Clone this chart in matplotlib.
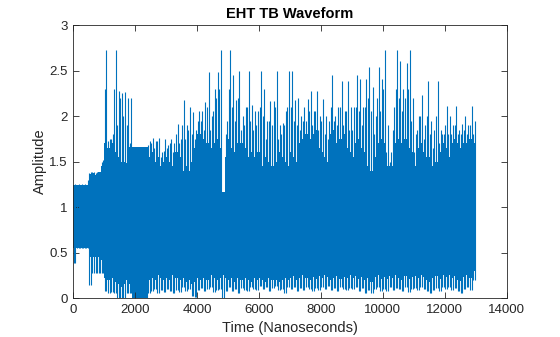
import matplotlib
matplotlib.use("Agg")
import matplotlib.pyplot as plt
import numpy as np

# Waveform summarised in 100 ns bins (0 .. 13000 ns)
BIN_NS = 100

# solid core of the trace: top / bottom per bin
core_hi = [
    1.24, 1.24, 1.24, 1.24, 1.24, 1.36, 1.37, 1.35, 1.38, 1.45,
    1.70, 1.65, 1.70, 1.60, 1.55, 1.50, 1.50, 1.48, 1.66, 1.66,
    1.66, 1.66, 1.66, 1.66, 1.55, 1.60, 1.50, 1.55, 1.45, 1.50,
    1.55, 1.50, 1.45, 1.60, 1.55, 1.40, 1.45, 1.40, 1.50, 1.65,
    1.80, 1.80, 1.75, 1.70, 1.65, 1.70, 1.75, 1.65, 1.17, 1.55,
    1.75, 1.65, 1.60, 1.70, 1.70, 1.65, 1.55, 1.60, 1.55, 1.60,
    1.60, 1.45, 1.55, 1.50, 1.45, 1.50, 1.60, 1.55, 1.50, 1.45,
    1.60, 1.55, 1.50, 1.70, 1.75, 1.80, 1.75, 1.80, 1.85, 1.65,
    1.60, 1.55, 1.50, 1.80, 1.85, 1.70, 1.75, 1.80, 1.65, 1.60,
    1.55, 1.70, 1.75, 1.65, 1.60, 1.45, 1.40, 1.55, 1.70, 1.75,
    1.70, 1.45, 1.45, 1.45, 1.70, 1.75, 1.70, 1.75, 1.65, 1.60,
    1.45, 1.65, 1.70, 1.60, 1.55, 1.55, 1.45, 1.50, 1.60, 1.70,
    1.65, 1.55, 1.70, 1.75, 1.70, 1.65, 1.70, 1.70, 1.75, 1.70,
]
core_lo = [
    0.55, 0.55, 0.55, 0.55, 0.55, 0.45, 0.45, 0.45, 0.45, 0.42,
    0.22, 0.20, 0.22, 0.18, 0.15, 0.12, 0.15, 0.20, 0.15, 0.00,
    0.00, 0.00, 0.00, 0.00, 0.20, 0.22, 0.20, 0.25, 0.22, 0.20,
    0.22, 0.20, 0.25, 0.22, 0.20, 0.22, 0.18, 0.20, 0.15, 0.18,
    0.22, 0.20, 0.22, 0.20, 0.25, 0.22, 0.20, 0.22, 0.25, 0.22,
    0.20, 0.22, 0.18, 0.22, 0.20, 0.22, 0.20, 0.18, 0.22, 0.20,
    0.22, 0.20, 0.18, 0.22, 0.20, 0.20, 0.18, 0.20, 0.22, 0.20,
    0.22, 0.24, 0.20, 0.22, 0.25, 0.22, 0.20, 0.23, 0.21, 0.24,
    0.22, 0.25, 0.23, 0.20, 0.22, 0.24, 0.21, 0.23, 0.22, 0.25,
    0.22, 0.24, 0.21, 0.23, 0.20, 0.22, 0.18, 0.23, 0.25, 0.21,
    0.23, 0.21, 0.24, 0.22, 0.25, 0.22, 0.20, 0.24, 0.21, 0.23,
    0.24, 0.22, 0.25, 0.23, 0.20, 0.18, 0.22, 0.24, 0.21, 0.25,
    0.23, 0.25, 0.22, 0.24, 0.20, 0.19, 0.23, 0.25, 0.22, 0.30,
]

# top of the dense (non-solid) band of oscillation per bin
dense_hi = [
    1.24, 1.24, 1.24, 1.24, 1.24, 1.37, 1.38, 1.37, 1.38, 1.50,
    2.30, 1.72, 1.75, 2.30, 1.90, 2.20, 2.00, 1.90, 1.70, 1.66,
    1.66, 1.66, 1.66, 1.66, 1.68, 1.70, 1.65, 1.72, 1.55, 1.62,
    1.65, 1.70, 1.60, 1.80, 1.70, 1.90, 1.75, 1.85, 1.80, 1.75,
    1.95, 1.95, 1.85, 2.10, 1.85, 2.05, 2.20, 2.30, 1.17, 1.80,
    2.30, 2.10, 1.95, 2.20, 1.85, 1.90, 2.10, 1.95, 1.85, 1.90,
    2.10, 2.00, 1.75, 1.95, 1.90, 2.10, 1.75, 1.80, 1.90, 2.10,
    2.10, 1.95, 1.90, 1.85, 1.95, 1.95, 2.05, 1.90, 2.05, 1.85,
    1.95, 1.80, 1.75, 2.10, 1.95, 1.90, 2.10, 1.90, 2.05, 1.85,
    1.85, 2.10, 2.05, 1.90, 2.10, 2.20, 2.05, 1.80, 2.20, 2.05,
    2.30, 1.60, 1.50, 1.85, 2.30, 2.20, 2.05, 2.20, 2.30, 1.95,
    1.60, 1.85, 2.00, 1.75, 2.00, 1.80, 1.65, 2.00, 1.70, 1.80,
    1.90, 1.80, 1.80, 1.90, 1.80, 1.80, 1.85, 1.80, 1.90, 1.80,
]

# full excursion of the trace per bin (spikes and dips)
peak_hi = [
    1.25, 1.25, 1.25, 1.25, 1.30, 1.38, 1.38, 1.38, 1.39, 1.52,
    2.72, 1.75, 1.80, 2.72, 2.28, 2.25, 2.26, 2.20, 2.20, 1.66,
    1.66, 1.66, 1.66, 1.66, 1.72, 1.76, 1.72, 1.76, 1.60, 1.75,
    1.68, 1.75, 1.70, 1.91, 1.75, 2.18, 1.90, 2.10, 2.04, 1.85,
    2.05, 2.05, 2.15, 2.48, 2.00, 2.30, 2.48, 2.73, 1.17, 1.95,
    2.73, 2.45, 2.18, 2.50, 2.00, 2.10, 2.50, 2.12, 2.05, 2.05,
    2.50, 2.30, 1.95, 2.17, 2.17, 2.49, 1.90, 1.92, 2.05, 2.49,
    2.49, 2.18, 2.20, 2.00, 2.10, 2.19, 2.27, 2.05, 2.27, 2.00,
    2.19, 2.00, 1.95, 2.45, 2.00, 2.10, 2.39, 2.05, 2.39, 2.10,
    2.10, 2.45, 2.41, 2.10, 2.41, 2.54, 2.32, 2.00, 2.54, 2.41,
    2.73, 1.90, 1.60, 2.10, 2.73, 2.60, 2.30, 2.58, 2.73, 2.20,
    1.80, 2.00, 2.23, 1.90, 2.39, 1.95, 1.85, 2.39, 1.85, 1.80,
    2.11, 2.00, 1.90, 2.11, 1.85, 1.91, 2.00, 1.90, 2.11, 1.95,
]
peak_lo = [
    0.39, 0.55, 0.55, 0.55, 0.55, 0.14, 0.27, 0.28, 0.27, 0.28,
    0.08, 0.06, 0.07, 0.05, 0.00, 0.00, 0.00, 0.05, 0.06, 0.00,
    0.00, 0.00, 0.00, 0.00, 0.05, 0.08, 0.10, 0.06, 0.09, 0.07,
    0.10, 0.08, 0.06, 0.09, 0.07, 0.12, 0.08, 0.10, 0.02, 0.01,
    0.09, 0.11, 0.08, 0.10, 0.12, 0.07, 0.09, 0.10, 0.00, 0.08,
    0.12, 0.08, 0.10, 0.06, 0.11, 0.09, 0.08, 0.12, 0.10, 0.09,
    0.13, 0.10, 0.12, 0.08, 0.11, 0.13, 0.09, 0.10, 0.06, 0.12,
    0.10, 0.12, 0.08, 0.11, 0.09, 0.12, 0.10, 0.08, 0.11, 0.09,
    0.12, 0.10, 0.13, 0.09, 0.11, 0.08, 0.12, 0.10, 0.09, 0.11,
    0.10, 0.12, 0.08, 0.11, 0.06, 0.09, 0.05, 0.10, 0.12, 0.08,
    0.10, 0.08, 0.12, 0.09, 0.11, 0.10, 0.08, 0.12, 0.07, 0.10,
    0.11, 0.09, 0.12, 0.10, 0.08, 0.05, 0.09, 0.11, 0.08, 0.12,
    0.10, 0.12, 0.09, 0.11, 0.08, 0.06, 0.10, 0.12, 0.09, 0.20,
]

x_ticks = [0, 2000, 4000, 6000, 8000, 10000, 12000, 14000]
y_ticks = [0, 0.5, 1, 1.5, 2, 2.5, 3]
y_tick_labels = ["0", "0.5", "1", "1.5", "2", "2.5", "3"]

LINE = "#0072BD"
AX = "#262626"

plt.rcParams["font.family"] = ["Liberation Sans", "DejaVu Sans"]

core_hi = np.array(core_hi)
core_lo = np.array(core_lo)
centers = np.arange(len(core_hi)) * BIN_NS + BIN_NS / 2

fig = plt.figure(figsize=(5.6, 3.37), dpi=100)
ax = fig.add_axes([0.1309, 0.1157, 0.7736, 0.8101])

# solid body, then the oscillation strokes on top of it
ax.bar(centers, core_hi - core_lo, bottom=core_lo, width=BIN_NS,
       color=LINE, linewidth=0)
ax.vlines(centers - 30, peak_lo, dense_hi, color=LINE, linewidth=0.8)
ax.vlines(centers + 20, peak_lo, peak_hi, color=LINE, linewidth=0.8)

ax.set_xlim(0, 14000)
ax.set_ylim(0, 3)
ax.set_xticks(x_ticks)
ax.set_xticklabels([str(t) for t in x_ticks])
ax.set_yticks(y_ticks)
ax.set_yticklabels(y_tick_labels)

ax.tick_params(direction="in", length=4, width=0.6, colors=AX,
               labelsize=9.5, top=True, right=True, pad=4)
for s in ax.spines.values():
    s.set_color(AX)
    s.set_linewidth(0.6)

ax.set_title("EHT TB Waveform", fontsize=10.5, fontweight="bold", color="black", pad=5)
ax.set_xlabel("Time (Nanoseconds)", fontsize=10.5, color=AX, labelpad=4)
ax.set_ylabel("Amplitude", fontsize=10.5, color=AX, labelpad=2)

fig.savefig("out.png", dpi=100)
